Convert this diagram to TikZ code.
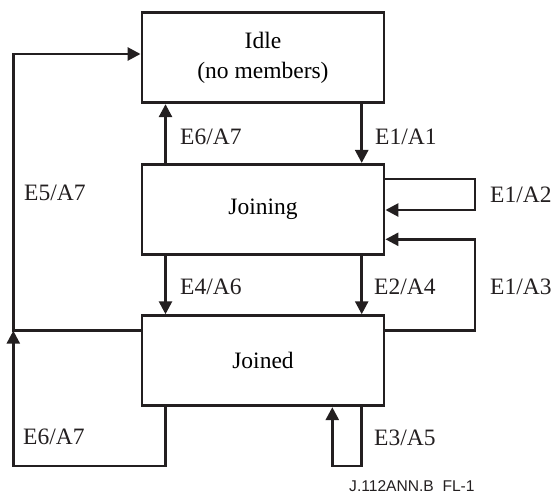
\documentclass[tikz,border=0pt]{standalone}
\usepackage{fontspec}
\setmainfont{Liberation Serif}
\newfontfamily\sansf{Liberation Sans}
\usetikzlibrary{arrows.meta}
\definecolor{ink}{RGB}{35,31,32}
\begin{document}
\begin{tikzpicture}[x=1pt,y=-1pt,
  statebox/.style={draw=ink, line width=2.9pt, minimum width=242pt, minimum height=90pt,
    inner sep=0pt, align=center, font=\fontsize{23.5}{29.7}\selectfont},
  lab/.style={inner sep=0pt, anchor=base west, text=ink, font=\fontsize{23.5}{28}\selectfont},
  conn/.style={draw=ink, line width=2.7pt},
  arr/.style={conn, -{Triangle[length=13pt,width=13pt]}}]
\useasboundingbox (0,0) rectangle (553,495);
% states
\node[statebox] (idle) at (263,57.7) {Idle\\(no members)};
\node[statebox] (joining) at (263,209.4) {Joining};
\node[statebox] (joined) at (263,360.7) {Joined};
% helper coordinates
\coordinate (xl) at (165.5,0);
\coordinate (xr) at (361.7,0);
\coordinate (xe) at (475,0);
\coordinate (xw) at (13.3,0);
\coordinate (xs) at (332.3,0);
\coordinate (ya) at (0,179);
\coordinate (yb) at (0,210);
\coordinate (yc) at (0,239.3);
\coordinate (yd) at (0,330.7);
\coordinate (ye) at (0,54);
\coordinate (yf) at (0,466);
\coordinate (junc) at (13.3,330.7);
% connectors
\draw[arr] (idle.south -| xr) -- (joining.north -| xr);
\draw[arr] (joining.north -| xl) -- (idle.south -| xl);
\draw[arr] (joining.east |- ya) -| (xe |- yb) -- (joining.east |- yb);
\draw[arr] (joined.east |- yd) -| (xe |- yc) -- (joining.east |- yc);
\draw[arr] (joining.south -| xl) -- (joined.north -| xl);
\draw[arr] (joining.south -| xr) -- (joined.north -| xr);
\draw[arr] (joined.west |- yd) -| (xw |- ye) -- (idle.west |- ye);
\draw[arr] (joined.south -| xl) |- (xw |- yf) -- (junc);
\draw[arr] (joined.south -| xr) |- (xs |- yf) -- (joined.south -| xs);
% labels
\node[lab] (l1) at (180,144.3) {E6/A7};
\node[lab] (l2) at (375,144.3) {E1/A1};
\node[lab] (l3) at (24,200.8) {E5/A7};
\node[lab] (l4) at (490,202.8) {E1/A2};
\node[lab] (l5) at (180,294.5) {E4/A6};
\node[lab] (l6) at (374,294.5) {E2/A4};
\node[lab] (l7) at (490,294.5) {E1/A3};
\node[lab] (l8) at (23,444.5) {E6/A7};
\node[lab] (l9) at (374,445.5) {E3/A5};
\node[inner sep=0pt, anchor=base west, text=ink, font=\sansf\fontsize{15.6}{18}\selectfont] (fig) at (349,491.3) {J.112ANN.B\ \ FL-1};
\end{tikzpicture}
\end{document}
